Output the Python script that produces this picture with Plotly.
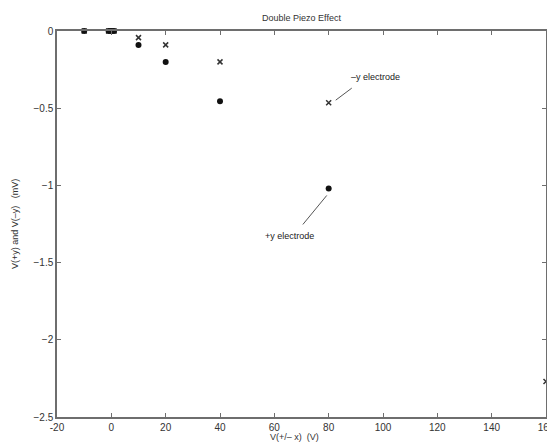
import plotly.graph_objects as go

# data
x_plus = [-10, -1, 0, 1, 10, 20, 40, 80]
v_plus = [0.0, 0.0, 0.0, 0.0, -0.09, -0.2, -0.455, -1.02]   # +y electrode (circles)
x_minus = [-10, -1, 0, 1, 10, 20, 40, 80, 160]
v_minus = [0.0, 0.0, 0.0, 0.0, -0.043, -0.09, -0.2, -0.465, -2.27]  # -y electrode (crosses)

xticks = [-20, 0, 20, 40, 60, 80, 100, 120, 140, 160]
yticks = [0, -0.5, -1, -1.5, -2, -2.5]

font = "Liberation Sans, Arial, sans-serif"
axcol = "#6e6e6e"
txtcol = "#333333"

fig = go.Figure()
fig.add_trace(go.Scatter(x=x_minus, y=v_minus, mode="markers",
                         marker=dict(symbol="x-thin", size=5, line=dict(width=1.5, color="#333333")),
                         cliponaxis=False, showlegend=False))
fig.add_trace(go.Scatter(x=x_plus, y=v_plus, mode="markers",
                         marker=dict(symbol="circle", size=6, color="#111111"),
                         cliponaxis=False, showlegend=False))

# annotation leader lines
fig.add_shape(type="line", x0=82.6, y0=-0.448, x1=88.5, y1=-0.37,
              line=dict(color="#555555", width=1))
fig.add_shape(type="line", x0=70.5, y0=-1.253, x1=79.3, y1=-1.065,
              line=dict(color="#555555", width=1))
fig.add_annotation(x=87.5, y=-0.30, text="\u2013y electrode", showarrow=False,
                   xanchor="left", font=dict(family=font, size=9, color="#222222"))
fig.add_annotation(x=65.7, y=-1.33, text="+y electrode", showarrow=False,
                   xanchor="center", font=dict(family=font, size=9, color="#222222"))

# title and axis titles as paper-positioned text
fig.add_annotation(xref="paper", yref="paper", x=0.50, y=1.0, yshift=13,
                   text="Double Piezo Effect", showarrow=False, xanchor="center", yanchor="middle",
                   font=dict(family=font, size=9, color=txtcol))
fig.add_annotation(xref="paper", yref="paper", x=0.485, y=0, yshift=-20,
                   text="V(+/\u2013 x)  (V)", showarrow=False, xanchor="center", yanchor="middle",
                   font=dict(family=font, size=9, color=txtcol))
fig.add_annotation(xref="paper", yref="paper", x=0, xshift=-42, y=0.5,
                   text="V(+y) and V(\u2013y)   (mV)", showarrow=False, textangle=-90,
                   xanchor="center", yanchor="middle",
                   font=dict(family=font, size=9, color=txtcol))

axis_common = dict(showgrid=False, zeroline=False, showline=True, mirror="ticks",
                   linecolor=axcol, linewidth=1.5, ticks="inside", ticklen=4,
                   tickcolor=axcol, tickwidth=1, automargin=False,
                   tickfont=dict(family=font, size=10, color=txtcol))

# the page body has an 8px margin, so the figure is sized to fit inside the window
fig.update_layout(
    width=547, height=437,
    margin=dict(l=49, r=9, t=23, b=28),
    paper_bgcolor="white", plot_bgcolor="white",
    xaxis=dict(range=[-20, 160], tickvals=xticks, ticktext=[str(v) for v in xticks],
               **axis_common),
    yaxis=dict(range=[-2.5, 0], tickvals=yticks,
               ticktext=["0", "\u22120.5", "\u22121", "\u22121.5", "\u22122", "\u22122.5"],
               **axis_common),
)

fig.write_html("out.html")
